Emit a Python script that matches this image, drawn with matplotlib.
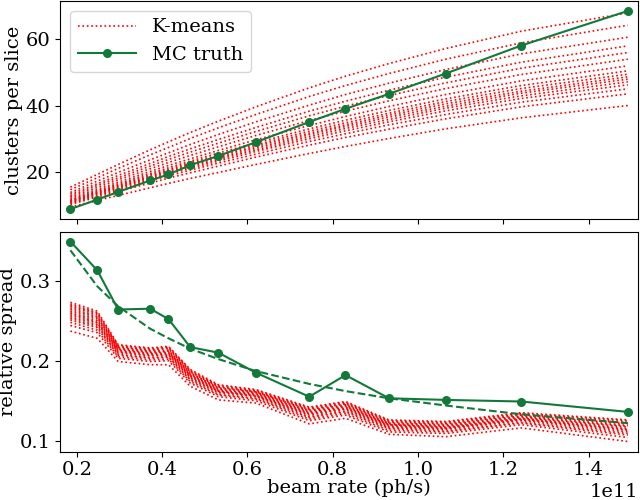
import numpy as np
import matplotlib
matplotlib.use("Agg")
import matplotlib.pyplot as plt

plt.rcParams['font.family'] = ['DejaVu Serif']

# beam rate in units of 1e11 ph/s
rate = np.array([0.185, 0.248, 0.297, 0.372, 0.415, 0.466, 0.532, 0.62,
                 0.745, 0.83, 0.932, 1.065, 1.242, 1.492]) * 1e11

mc_clusters = [8.9, 11.75, 14.05, 17.5, 19.3, 22.1, 24.85, 29.0, 35.05,
               39.0, 43.5, 49.6, 58.0, 68.4]
mc_spread = [0.349, 0.313, 0.264, 0.265, 0.252, 0.217, 0.210, 0.185, 0.155,
             0.182, 0.153, 0.151, 0.149, 0.136]
mc_fit = [0.338, 0.293, 0.268, 0.240, 0.228, 0.215, 0.202, 0.187, 0.171,
          0.162, 0.153, 0.144, 0.133, 0.122]

km_clusters = [
    [15.5, 19.3, 22.3, 26.7, 29.1, 31.9, 35.3, 39.6, 45.3, 48.8, 52.6, 57.1, 62.3, 67.8],
    [14.7, 18.3, 21.1, 25.2, 27.4, 30.1, 33.3, 37.3, 42.7, 46.0, 49.6, 53.9, 58.8, 64.1],
    [13.9, 17.3, 19.9, 23.7, 25.8, 28.3, 31.3, 35.1, 40.1, 43.3, 46.7, 50.8, 55.5, 60.5],
    [13.4, 16.5, 19.0, 22.6, 24.7, 27.0, 29.8, 33.4, 38.3, 41.3, 44.6, 48.5, 53.0, 57.9],
    [12.9, 16.0, 18.3, 21.8, 23.8, 26.0, 28.7, 32.2, 36.9, 39.8, 43.0, 46.8, 51.2, 55.9],
    [12.5, 15.4, 17.7, 21.0, 22.9, 25.0, 27.6, 31.0, 35.5, 38.3, 41.4, 45.1, 49.3, 53.9],
    [12.1, 14.8, 17.0, 20.2, 22.0, 24.0, 26.5, 29.7, 34.0, 36.7, 39.7, 43.3, 47.4, 51.9],
    [11.7, 14.4, 16.5, 19.6, 21.3, 23.3, 25.7, 28.8, 33.0, 35.6, 38.5, 42.0, 46.0, 50.4],
    [11.5, 14.1, 16.1, 19.2, 20.8, 22.8, 25.1, 28.2, 32.3, 34.8, 37.7, 41.2, 45.1, 49.4],
    [11.4, 13.9, 15.9, 18.8, 20.5, 22.4, 24.7, 27.7, 31.7, 34.2, 37.1, 40.5, 44.3, 48.6],
    [11.2, 13.7, 15.6, 18.5, 20.2, 22.0, 24.3, 27.2, 31.2, 33.7, 36.5, 39.8, 43.7, 47.9],
    [11.0, 13.5, 15.4, 18.2, 19.8, 21.6, 23.8, 26.7, 30.6, 33.1, 35.8, 39.2, 42.9, 47.1],
    [10.8, 13.2, 15.1, 17.8, 19.4, 21.2, 23.3, 26.2, 30.0, 32.4, 35.1, 38.4, 42.1, 46.2],
    [10.6, 12.9, 14.7, 17.4, 18.9, 20.6, 22.7, 25.4, 29.2, 31.5, 34.2, 37.3, 41.0, 45.0],
    [10.3, 12.5, 14.2, 16.7, 18.2, 19.8, 21.8, 24.5, 28.1, 30.4, 32.9, 36.0, 39.6, 43.5],
    [9.5, 11.5, 13.0, 15.3, 16.6, 18.1, 19.9, 22.3, 25.6, 27.7, 30.1, 33.0, 36.3, 40.0],
]

km_spread = [
    [.273, .262, .220, .216, .218, .189, .170, .164, .142, .149, .126, .124, .135, .126],
    [.271, .260, .219, .215, .217, .188, .169, .163, .141, .148, .125, .123, .134, .125],
    [.269, .259, .218, .214, .216, .187, .168, .162, .140, .147, .124, .122, .133, .123],
    [.268, .257, .217, .213, .215, .186, .167, .161, .139, .146, .123, .121, .132, .122],
    [.266, .255, .216, .212, .213, .185, .166, .161, .138, .145, .122, .120, .131, .121],
    [.264, .254, .215, .211, .212, .184, .165, .160, .137, .144, .121, .119, .130, .119],
    [.262, .252, .214, .210, .211, .183, .164, .159, .136, .143, .120, .118, .129, .118],
    [.260, .250, .213, .209, .210, .182, .163, .158, .135, .142, .120, .117, .128, .117],
    [.259, .248, .212, .208, .209, .181, .162, .157, .134, .141, .119, .116, .127, .115],
    [.257, .247, .211, .207, .208, .180, .162, .156, .133, .140, .118, .116, .127, .114],
    [.255, .245, .210, .206, .207, .179, .161, .156, .132, .139, .117, .115, .126, .113],
    [.253, .243, .208, .204, .205, .177, .160, .155, .130, .137, .116, .114, .125, .111],
    [.251, .241, .207, .203, .204, .176, .158, .153, .129, .136, .115, .112, .123, .109],
    [.248, .238, .205, .201, .202, .174, .157, .152, .127, .134, .113, .111, .122, .107],
    [.244, .235, .203, .199, .200, .172, .155, .150, .125, .132, .111, .109, .120, .104],
    [.237, .228, .199, .195, .195, .168, .151, .147, .121, .128, .108, .105, .116, .099],
]

green = '#12793b'

fig = plt.figure(figsize=(6.4, 5), dpi=100)
ax1 = fig.add_axes([0.094, 0.562, 0.903, 0.436])
ax2 = fig.add_axes([0.094, 0.097, 0.903, 0.44], sharex=ax1)

for i, row in enumerate(km_clusters):
    ax1.plot(rate, row, ':', color='red', lw=1.2,
             label='K-means' if i == 0 else None)
ax1.plot(rate, mc_clusters, '-o', color=green, ms=5.5, lw=1.5, label='MC truth')
ax1.set_ylabel('clusters per slice', fontsize=14, labelpad=2)
ax1.legend(loc='upper left', fontsize=14, handlelength=3.0)
ax1.tick_params(labelbottom=False, labelsize=14)
ax1.set_xlim(0.161e11, 1.516e11)

for row in km_spread:
    ax2.plot(rate, row, ':', color='red', lw=1.2)
ax2.plot(rate, mc_spread, '-o', color=green, ms=5.5, lw=1.5)
ax2.plot(rate, mc_fit, '--', color=green, lw=1.5)
ax2.set_ylabel('relative spread', fontsize=14, labelpad=2)
ax2.set_xlabel('beam rate (ph/s)', fontsize=14, labelpad=0)
ax2.tick_params(labelsize=14)
ax2.xaxis.get_offset_text().set_fontsize(14)

fig.savefig('out.png')
